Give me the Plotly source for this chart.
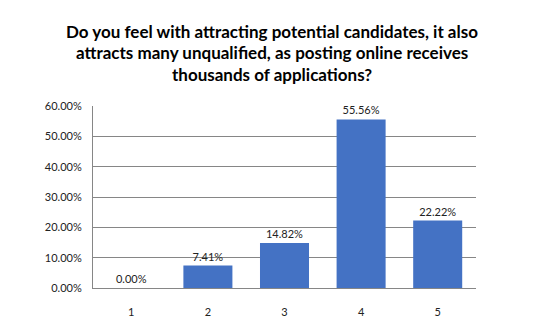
import plotly.graph_objects as go

categories = ["1", "2", "3", "4", "5"]
values = [0.0, 7.41, 14.82, 55.56, 22.22]
tick_vals = [0, 10, 20, 30, 40, 50, 60]
tick_text = ["0.00%", "10.00%", "20.00%", "30.00%", "40.00%", "50.00%", "60.00%"]
title_lines = [
    "Do you feel with attracting potential candidates, it also",
    "attracts many unqualified, as posting online receives",
    "thousands of applications?",
]

W, H = 545, 330
M = dict(l=93, r=69, t=106, b=32)
plot_h = H - M["t"] - M["b"]
line_px = [27, 50, 73]

fig = go.Figure(go.Bar(
    x=categories, y=values,
    marker=dict(color="#4472C4", line=dict(width=0)),
    text=[f"{v:.2f}%" for v in values],
    textposition="outside",
    textfont=dict(family="Lato, Carlito, sans-serif", size=11, color="#222222"),
    cliponaxis=False,
    width=0.64,
))

for line, py in zip(title_lines, line_px):
    fig.add_annotation(
        text=line, xref="paper", yref="paper",
        x=0.5 + (272 - (M["l"] + (W - M["l"] - M["r"]) / 2)) / (W - M["l"] - M["r"]),
        y=(H - M["b"] - py) / plot_h,
        xanchor="center", yanchor="middle", showarrow=False,
        font=dict(family="Lato, Carlito, sans-serif", size=17, color="#000000", weight="bold"),
    )

fig.update_layout(
    width=W, height=H,
    margin=M,
    paper_bgcolor="white", plot_bgcolor="white",
    showlegend=False,
    xaxis=dict(
        showgrid=False, showline=True, linecolor="#868686", linewidth=1,
        ticks="outside", ticklen=14, tickcolor="rgba(0,0,0,0)",
        tickfont=dict(family="Lato, Carlito, sans-serif", size=11, color="#222222"),
    ),
    yaxis=dict(
        range=[0, 60], tickvals=tick_vals, ticktext=tick_text,
        showgrid=True, gridcolor="#868686", gridwidth=1,
        showline=True, linecolor="#868686", linewidth=1,
        zeroline=False,
        ticks="outside", ticklen=8, tickcolor="rgba(0,0,0,0)",
        tickfont=dict(family="Lato, Carlito, sans-serif", size=11, color="#222222"),
    ),
    bargap=0.36,
)

fig.write_html("out.html")
